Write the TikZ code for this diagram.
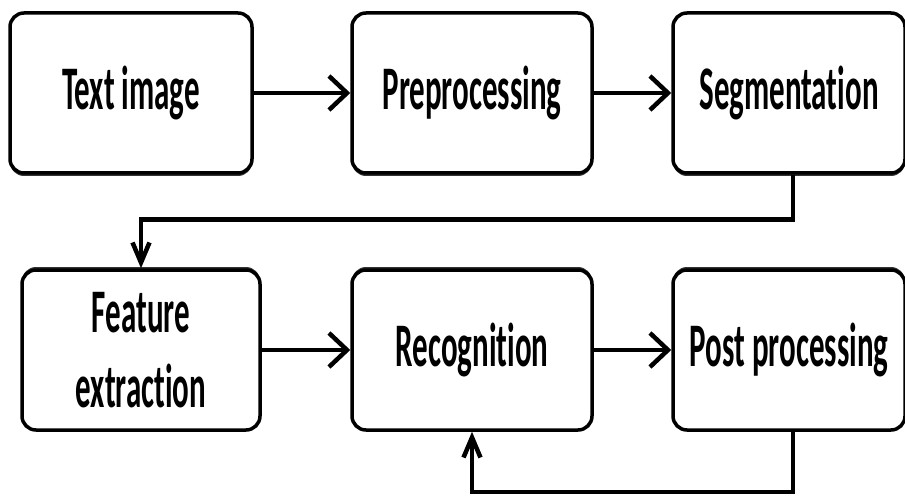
\documentclass[tikz,border=0pt]{standalone}
\usepackage{fontspec}
\setmainfont{Carlito}[FakeStretch=0.5, Ligatures=NoCommon]
\usetikzlibrary{arrows.meta,shadows}
\begin{document}
\begin{tikzpicture}[x=1pt,y=-1pt,
  box/.style={draw=black, line width=3.5pt, rounded corners=14pt, fill=white,
    minimum height=160pt, inner sep=0pt, align=center,
    font=\fontsize{62}{75}\selectfont\bfseries},
  shdown/.style={drop shadow={shadow xshift=0pt, shadow yshift=-3pt, fill=black, opacity=0.8}},
  shup/.style={drop shadow={shadow xshift=0pt, shadow yshift=3pt, fill=black, opacity=0.8}},
  flow/.style={line width=4.5pt, -{Straight Barb[length=18pt,width=34pt]}},
  fb/.style={line width=4.5pt, -{Straight Barb[length=20pt,width=17pt]}}]
\useasboundingbox (0,0) rectangle (905,497);
\node[box, shdown, minimum width=242pt] (img) at (131,93) {Text image};
\node[box, shdown, minimum width=240pt] (pre) at (472,93) {Preprocessing};
\node[box, shdown, minimum width=232pt] (seg) at (789,93) {Segmentation};
\node[box, shup, minimum width=238pt] (feat) at (141,350) {Feature\\extraction};
\node[box, shup, minimum width=240pt] (rec) at (472,350) {Recognition};
\node[box, shup, minimum width=232pt] (post) at (789,350) {Post processing};
\draw[flow] (img) -- (pre);
\draw[flow] (pre) -- (seg);
\draw[flow] (feat) -- (rec);
\draw[flow] (rec) -- (post);
\draw[fb] ([xshift=4pt]seg.south) -- ++(0,45) -| (feat.north);
\draw[fb] ([xshift=4pt]post.south) -- ++(0,60) -| (rec.south);
\end{tikzpicture}
\end{document}
